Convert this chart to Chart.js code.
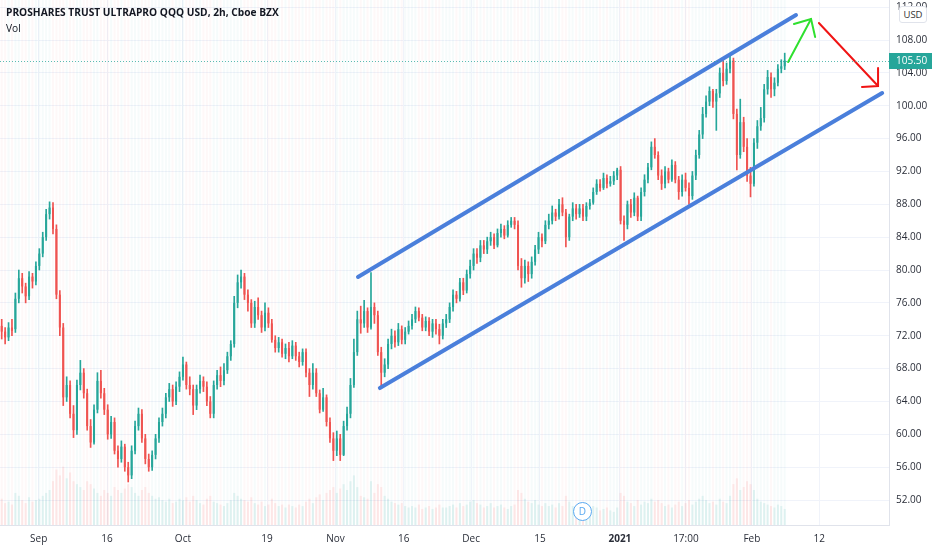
<!DOCTYPE html>
<html>
<head>
<meta charset="utf-8">
<script src="https://cdn.jsdelivr.net/npm/chart.js@4.4.1/dist/chart.umd.min.js"></script>
<style>
  html, body { margin: 0; padding: 0; background: #fff; }
  #wrap { position: relative; width: 932px; height: 550px; }
  #myChart { display: block; }
  #title { position: absolute; left: 6px; top: 5px; font: bold 10.2px "Open Sans", sans-serif; color: #131722; }
  #vol { position: absolute; left: 6px; top: 21px; font: 10.2px "Open Sans", sans-serif; color: #131722; }
  #usd { position: absolute; left: 899px; top: 6px; width: 26px; height: 15px; border: 1px solid #e0e3eb;
         border-radius: 3px; background: #fff; font: 9.5px "Open Sans", sans-serif; color: #333;
         text-align: center; line-height: 15px; }
  #dmark { position: absolute; left: 573px; top: 502px; width: 17px; height: 17px; border: 1.5px solid #59a8f0;
           border-radius: 50%; background: #fff; font: 10px "Open Sans", sans-serif; color: #59a8f0;
           text-align: center; line-height: 17px; }
</style>
</head>
<body>
<div id="wrap">
  <canvas id="myChart" width="932" height="550"></canvas>
  <div id="title">PROSHARES TRUST ULTRAPRO QQQ USD, 2h, Cboe BZX</div>
  <div id="vol">Vol</div>
  <div id="usd">USD</div>
  <div id="dmark">D</div>
</div>
<script>
// candles, two per trading day, late Aug 2020 .. Feb 8 2021
var opens = [
  73.2, 72.5, 71.8, 73, 72.8, 76.5, 79, 78, 76.8, 79.2,
  78.6, 80.5, 82, 84, 86.8, 87.6, 85, 77, 73, 64.5,
  66, 62.5, 60.5, 66, 67.5, 65, 61, 59, 63, 66.5,
  65, 63, 60, 61.5, 58, 57, 58.5, 56, 55, 58,
  61, 62.5, 59.5, 57, 56, 57.5, 59.5, 61.5, 62.5, 64.5,
  65.5, 64, 65.8, 67, 68.5, 66, 65.5, 63.5, 65.5, 66.5,
  65.8, 64, 62.5, 66, 67.2, 66.5, 67.8, 69.5, 71, 76,
  78.5, 79.2, 77, 76, 73.5, 75.5, 74.5, 73, 74.8, 73.5,
  71.5, 70.5, 71.2, 69.8, 70.5, 69.5, 70.8, 69.5, 68.8, 70,
  67.5, 66, 67.5, 65, 63, 64.5, 61.5, 59.5, 58, 59.5,
  57.5, 61, 62.5, 66, 70, 74, 73.5, 75, 73, 75.5,
  74.5, 70, 67.5, 68.5, 71, 72, 71.2, 72.8, 71.5, 72.5,
  73.2, 74, 75, 74.2, 73, 73.8, 72.5, 73.5, 72.8, 72,
  73.5, 74, 75.5, 77, 76.5, 78.5, 77.5, 79.5, 80.5, 82,
  81.5, 83, 82.5, 83.5, 84, 83, 84.5, 85, 84.2, 85.5,
  86, 85.5, 80.5, 79, 80.5, 79.5, 81, 82.5, 84, 83.5,
  85.5, 86, 87, 86.5, 88, 87, 84, 86.5, 87.5, 86.8,
  87.5, 86.5, 87.8, 88.2, 89.5, 90.5, 90, 91.2, 90.5, 90.8,
  91.5, 92.2, 86, 85.5, 88, 87, 88.8, 86.5, 89.5, 91,
  92.5, 95, 94, 91.5, 90.5, 92, 91, 92.8, 91, 89.5,
  91, 90, 89, 91.5, 94, 96.5, 99, 100.5, 101.8, 100.5,
  101.5, 104, 103, 104.5, 105.5, 99, 94, 98, 95, 91.5,
  90.5, 95.5, 97.5, 98.5, 102, 103.5, 102, 102.8, 104.5, 104.8
];
var highs = [
  74, 73, 73.6, 74, 77.2, 80, 79.6, 78.4, 79.8, 79.6,
  81, 82.6, 84.6, 87.4, 88.3, 88.2, 85.5, 77.5, 73.5, 67,
  66.5, 63.5, 66.6, 69, 68, 65.5, 61.8, 63.6, 67.5, 67.8,
  65.6, 63.6, 62.2, 62, 58.6, 59.2, 58.8, 56.6, 58.6, 61.6,
  63.2, 63, 60, 57.6, 58, 60, 62, 63.2, 65, 66.2,
  66, 66.4, 67.6, 69.4, 68.8, 67, 66, 66, 67.2, 67,
  66.4, 64.6, 66.5, 67.8, 68.2, 68.6, 70, 71.4, 76.8, 79.4,
  80, 79.6, 77.6, 76.4, 76.2, 76.6, 75, 76, 75.4, 74,
  72, 71.8, 71.6, 71, 71.2, 71.4, 71.2, 70, 70.4, 70.4,
  68, 68.6, 68, 65.4, 65.6, 64.8, 62, 60.2, 60.4, 60,
  61.6, 63.3, 66.8, 71.6, 75, 75.6, 76.3, 75.4, 79.7, 76,
  75, 70.6, 69.2, 71.6, 72.8, 72.6, 73.5, 73.2, 73, 73.8,
  74.6, 75.5, 75.4, 74.6, 74.3, 74.2, 74, 74, 73.4, 74,
  74.6, 76, 77.6, 77.4, 79, 79, 80, 81.2, 82.6, 82.6,
  83.6, 83.6, 84, 84.6, 84.4, 85, 85.6, 85.4, 86, 86.4,
  86.4, 86, 81.4, 81.2, 81, 81.6, 83, 84.6, 84.4, 86,
  86.8, 87.8, 87.4, 88.6, 88.8, 87.4, 86.8, 88.2, 88, 88,
  88, 88.2, 88.6, 90, 91, 91, 91.8, 91.6, 91.4, 92,
  92.4, 92.6, 86.6, 88.4, 88.6, 89.4, 89, 90, 91.6, 93,
  95.6, 96, 94.4, 92.2, 92.6, 92.4, 93.4, 93.2, 91.4, 91.6,
  91.8, 90.6, 92, 94.6, 97, 99.8, 101.2, 102.3, 102, 102,
  104.6, 105.9, 105.2, 106.2, 105.8, 99.6, 100.8, 98.6, 96, 92.5,
  96, 98.2, 99.8, 102.6, 104.3, 104, 103.4, 105, 105.6, 106.4
];
var lows = [
  71.6, 71, 71.4, 72, 72.4, 76, 77.2, 76, 76.4, 77.8,
  78.2, 80, 81.6, 83.6, 86.2, 84.4, 76.5, 72, 63.5, 64,
  62, 59.6, 60, 65.4, 64.4, 60.5, 58.4, 58.8, 62.6, 64.4,
  62.4, 59.4, 59.5, 57.6, 56, 56.6, 55.5, 54.2, 54.6, 57.6,
  60.5, 59, 56.4, 55.5, 55.6, 57, 59, 61, 62, 64,
  63.4, 63.6, 65.2, 66.6, 65.5, 64.8, 62.4, 63, 65, 65.2,
  63.5, 62, 62, 65.5, 65.8, 66, 67.4, 69, 70.6, 75.4,
  77.8, 76.4, 75, 73, 73, 74, 72.4, 72.6, 73, 71.2,
  70, 70, 69.4, 69.2, 68.8, 69.2, 69, 68.2, 68.4, 67,
  64.6, 65.5, 64.6, 62.6, 62.8, 61, 59, 56.8, 57.4, 56.8,
  57.4, 60.5, 62, 65.7, 69.6, 72.3, 73, 72.4, 72.8, 73.5,
  69.6, 65.8, 67, 68, 70.4, 70.6, 70.8, 71, 71, 72.2,
  72.8, 73.6, 73.8, 72.6, 72.6, 72, 71.8, 72.2, 71, 71.6,
  73, 73.6, 75, 76, 76.2, 77, 77.2, 79, 80, 80.8,
  81, 82, 82, 83, 82.6, 82.8, 84, 83.8, 84, 85.2,
  85, 80, 77.9, 78.4, 78.6, 79, 80.6, 82, 82.8, 83.2,
  85, 85.6, 86, 86.2, 86.6, 82.8, 83.6, 86, 86.2, 86.4,
  86, 86, 87.4, 88, 89.2, 89.6, 89.8, 90, 90.2, 90.4,
  91, 85.6, 83.6, 85, 86.4, 86.6, 86, 86, 89, 90.6,
  92.2, 93.6, 91, 89.8, 90, 90.6, 90.8, 90.6, 88.6, 89,
  89.6, 88, 88.6, 91, 93.6, 96, 98.6, 100, 99.8, 97,
  101, 102.4, 102.6, 104, 98.4, 92.2, 93.6, 94.4, 90.8, 88.9,
  90.2, 94.8, 97, 98, 101.4, 101, 101.2, 102.4, 104, 104.4
];
var closes = [
  72.5, 71.8, 73, 72.6, 76.5, 79, 78, 76.8, 79.2, 78.6,
  80.5, 82, 84, 86.8, 87.6, 85, 77, 73, 64.5, 66,
  62.5, 60.5, 66, 67.5, 65, 61, 59, 63, 66.5, 65,
  63, 60, 61.5, 58, 57, 58.5, 56, 55, 58, 61,
  62.5, 59.5, 57, 56, 57.5, 59.5, 61.5, 62.5, 64.5, 65.5,
  64, 65.8, 67, 68.5, 66, 65.5, 63.5, 65.5, 66.5, 65.8,
  64, 62.5, 66, 67.2, 66.5, 67.8, 69.5, 71, 76, 78.5,
  79.2, 77, 76, 73.5, 75.5, 74.5, 73, 74.8, 73.5, 71.5,
  70.5, 71.2, 69.8, 70.5, 69.5, 70.8, 69.5, 68.8, 70, 67.5,
  66, 67.5, 65, 63, 64.5, 61.5, 59.5, 58, 59.5, 57.5,
  61, 62.5, 66, 70, 74, 73.5, 75, 73, 75.5, 74.5,
  70, 67.5, 68.5, 71, 72, 71.2, 72.8, 71.5, 72.5, 73.2,
  74, 75, 74.2, 73, 73.8, 72.5, 73.5, 72.8, 72, 73.5,
  74, 75.5, 77, 76.5, 78.5, 77.5, 79.5, 80.5, 82, 81.5,
  83, 82.5, 83.5, 84, 83, 84.5, 85, 84.2, 85.5, 86,
  85.5, 80.5, 79, 80.5, 79.5, 81, 82.5, 84, 83.5, 85.5,
  86, 87, 86.5, 88, 87, 84, 86.5, 87.5, 86.8, 87.5,
  86.5, 87.8, 88.2, 89.5, 90.5, 90, 91.2, 90.5, 90.8, 91.5,
  92.2, 86, 85.5, 88, 87, 88.8, 86.5, 89.5, 91, 92.5,
  95, 94, 91.5, 90.5, 92, 91, 92.8, 91, 89.5, 91,
  90, 89, 91.5, 94, 96.5, 99, 100.5, 101.8, 100.5, 101.5,
  104, 103, 104.5, 105.5, 99, 94, 98, 95, 91.5, 90.5,
  95.5, 97.5, 98.5, 102, 103.5, 102, 102.8, 104.5, 104.8, 105.5
];
// volume in millions of shares
var volumes = [
  18, 15, 16, 14, 22, 20, 17, 15, 19, 16,
  17, 18, 20, 22, 24, 30, 38, 34, 40, 32,
  36, 30, 28, 26, 24, 30, 28, 25, 22, 20,
  24, 22, 20, 26, 24, 22, 25, 28, 26, 22,
  20, 24, 26, 22, 20, 18, 19, 17, 16, 18,
  15, 16, 18, 17, 19, 16, 20, 17, 15, 14,
  18, 20, 16, 15, 14, 13, 15, 17, 22, 20,
  18, 17, 16, 19, 15, 14, 16, 13, 14, 18,
  15, 13, 14, 12, 14, 13, 12, 14, 13, 16,
  18, 15, 19, 21, 17, 22, 24, 26, 22, 25,
  28, 24, 30, 34, 26, 20, 19, 18, 30, 22,
  28, 26, 20, 18, 16, 15, 14, 15, 13, 12,
  13, 12, 14, 11, 12, 13, 11, 12, 14, 12,
  12, 13, 14, 12, 15, 13, 14, 16, 17, 15,
  14, 12, 13, 15, 12, 13, 14, 12, 11, 13,
  14, 24, 22, 18, 16, 15, 17, 14, 13, 15,
  13, 14, 12, 15, 13, 20, 16, 13, 12, 11,
  12, 10, 11, 13, 12, 10, 11, 12, 10, 9,
  12, 22, 20, 16, 15, 13, 17, 14, 16, 15,
  18, 16, 17, 15, 13, 14, 12, 14, 16, 13,
  15, 17, 14, 16, 18, 20, 17, 15, 16, 14,
  18, 16, 15, 20, 28, 32, 24, 26, 30, 28,
  24, 18, 16, 15, 14, 13, 12, 14, 13, 11
];

// time axis labels and the candle slot they sit on
var tickLabels = ['Sep', '16', 'Oct', '19', 'Nov', '16', 'Dec', '15', '2021', '17:00', 'Feb', '12'];
var tickSlots = [10.8, 30.8, 53, 77.6, 97.6, 117.6, 137.3, 157.4, 180.8, 200.1, 219.4, 239.1];
var priceTicks = [52, 56, 60, 64, 68, 72, 76, 80, 84, 88, 92, 96, 100, 104, 108, 112];

// drawings, in (slot, price)
var upperChannel = [{x: 104.2, y: 79.15}, {x: 232.3, y: 111.04}];
var lowerChannel = [{x: 110.6, y: 65.63}, {x: 257.5, y: 101.55}];
var greenShaft = [{x: 230.0, y: 105.32}, {x: 236.7, y: 110.56}];
var greenHead = [{x: 231.7, y: 109.95}, {x: 236.7, y: 110.56}, {x: 237.9, y: 108.37}];
var redShaft = [{x: 239.0, y: 110.07}, {x: 256.3, y: 102.40}];
var redHead = [{x: 256.3, y: 104.59}, {x: 256.3, y: 102.40}, {x: 251.6, y: 102.28}];

var UP = '#26a69a';
var DOWN = '#ef5350';

var bodies = [], wicks = [], vols = [];
for (var i = 0; i < closes.length; i++) {
    bodies.push({x: i, y: [opens[i], closes[i]]});
    wicks.push({x: i, y: [lows[i], highs[i]]});
    vols.push({x: i, y: volumes[i]});
}

function isUp(i) { return closes[i] >= opens[i]; }

// faint full-height stripes behind every candle, plus the last price line and label
var chartExtras = {
    id: 'chartExtras',
    beforeDatasetsDraw: function (chart) {
        var ctx = chart.ctx, area = chart.chartArea, xs = chart.scales.x;
        ctx.save();
        for (var i = 0; i < closes.length; i++) {
            var px = xs.getPixelForValue(i);
            ctx.fillStyle = isUp(i) ? 'rgba(38,166,154,0.045)' : 'rgba(239,83,80,0.04)';
            ctx.fillRect(px - 1, area.top, 2, area.bottom - area.top);
        }
        ctx.restore();
    },
    afterDraw: function (chart) {
        var ctx = chart.ctx, area = chart.chartArea, ys = chart.scales.y;
        var last = closes[closes.length - 1];
        var py = Math.round(ys.getPixelForValue(last));
        ctx.save();
        ctx.fillStyle = 'rgba(38,166,154,0.75)';
        for (var x = area.left; x < area.right; x += 3) {
            ctx.fillRect(x, py, 1, 1);
        }
        ctx.fillStyle = UP;
        ctx.fillRect(area.right, py - 8, chart.width - area.right, 16);
        ctx.fillStyle = '#fff';
        ctx.font = '10px "Open Sans"';
        ctx.textBaseline = 'middle';
        ctx.fillText(last.toFixed(2), area.right + 7, py + 0.5);
        ctx.restore();
    }
};

function drawing(points, color, width) {
    return {
        type: 'line', data: points, borderColor: color, borderWidth: width,
        pointRadius: 0, fill: false, tension: 0, yAxisID: 'y', order: 0,
        borderCapStyle: 'round', borderJoinStyle: 'miter'
    };
}

function noPadding(axis) {
    axis.paddingTop = 0;
    axis.paddingBottom = 0;
    axis.paddingLeft = 0;
    axis.paddingRight = 0;
}

var ctx = document.getElementById('myChart').getContext('2d');
var myChart = new Chart(ctx, {
    type: 'bar',
    data: {
        datasets: [
            drawing(upperChannel, '#4a7fdb', 4),
            drawing(lowerChannel, '#4a7fdb', 4),
            drawing(greenShaft, '#2fe02f', 2),
            drawing(greenHead, '#2fe02f', 2),
            drawing(redShaft, '#f01414', 2),
            drawing(redHead, '#f01414', 2),
            {
                data: bodies, grouped: false, barPercentage: 0.6, categoryPercentage: 1,
                backgroundColor: function (c) { return isUp(c.dataIndex) ? UP : DOWN; },
                yAxisID: 'y', order: 1
            },
            {
                data: wicks, grouped: false, barThickness: 1,
                backgroundColor: function (c) { return isUp(c.dataIndex) ? UP : DOWN; },
                yAxisID: 'y', order: 2
            },
            {
                data: vols, grouped: false, barPercentage: 0.6, categoryPercentage: 1,
                backgroundColor: function (c) {
                    return isUp(c.dataIndex) ? 'rgba(38,166,154,0.12)' : 'rgba(239,83,80,0.11)';
                },
                yAxisID: 'yVol', order: 3
            }
        ]
    },
    options: {
        responsive: false,
        animation: false,
        layout: { padding: 0 },
        plugins: { legend: { display: false }, tooltip: { enabled: false } },
        scales: {
            x: {
                type: 'linear', min: -0.5, max: 259.5, offset: false,
                grid: { color: '#f0f3fa', drawTicks: false, offset: false },
                border: { color: '#e0e3eb' },
                afterBuildTicks: function (axis) {
                    axis.ticks = tickSlots.map(function (v) { return {value: v}; });
                },
                afterFit: function (axis) { axis.height = 25; noPadding(axis); },
                ticks: {
                    autoSkip: false, maxRotation: 0, padding: 8, color: '#2a2e39',
                    font: function (c) {
                        return {family: '"Open Sans"', size: 10, weight: (c.tick && c.tick.label === '2021') ? 'bold' : 'normal'};
                    },
                    callback: function (value, index) { return tickLabels[index]; }
                }
            },
            y: {
                position: 'right', min: 48.96, max: 112.87,
                grid: { color: '#f0f3fa', drawTicks: false },
                border: { color: '#e0e3eb' },
                afterBuildTicks: function (axis) {
                    axis.ticks = priceTicks.map(function (v) { return {value: v}; });
                },
                afterFit: function (axis) { axis.width = 43; noPadding(axis); },
                ticks: {
                    autoSkip: false, padding: 7, color: '#2a2e39', font: {family: '"Open Sans"', size: 10},
                    callback: function (value) { return value.toFixed(2); }
                }
            },
            yVol: {
                display: false, min: 0, max: 360
            }
        }
    },
    plugins: [chartExtras]
});
</script>
</body>
</html>
